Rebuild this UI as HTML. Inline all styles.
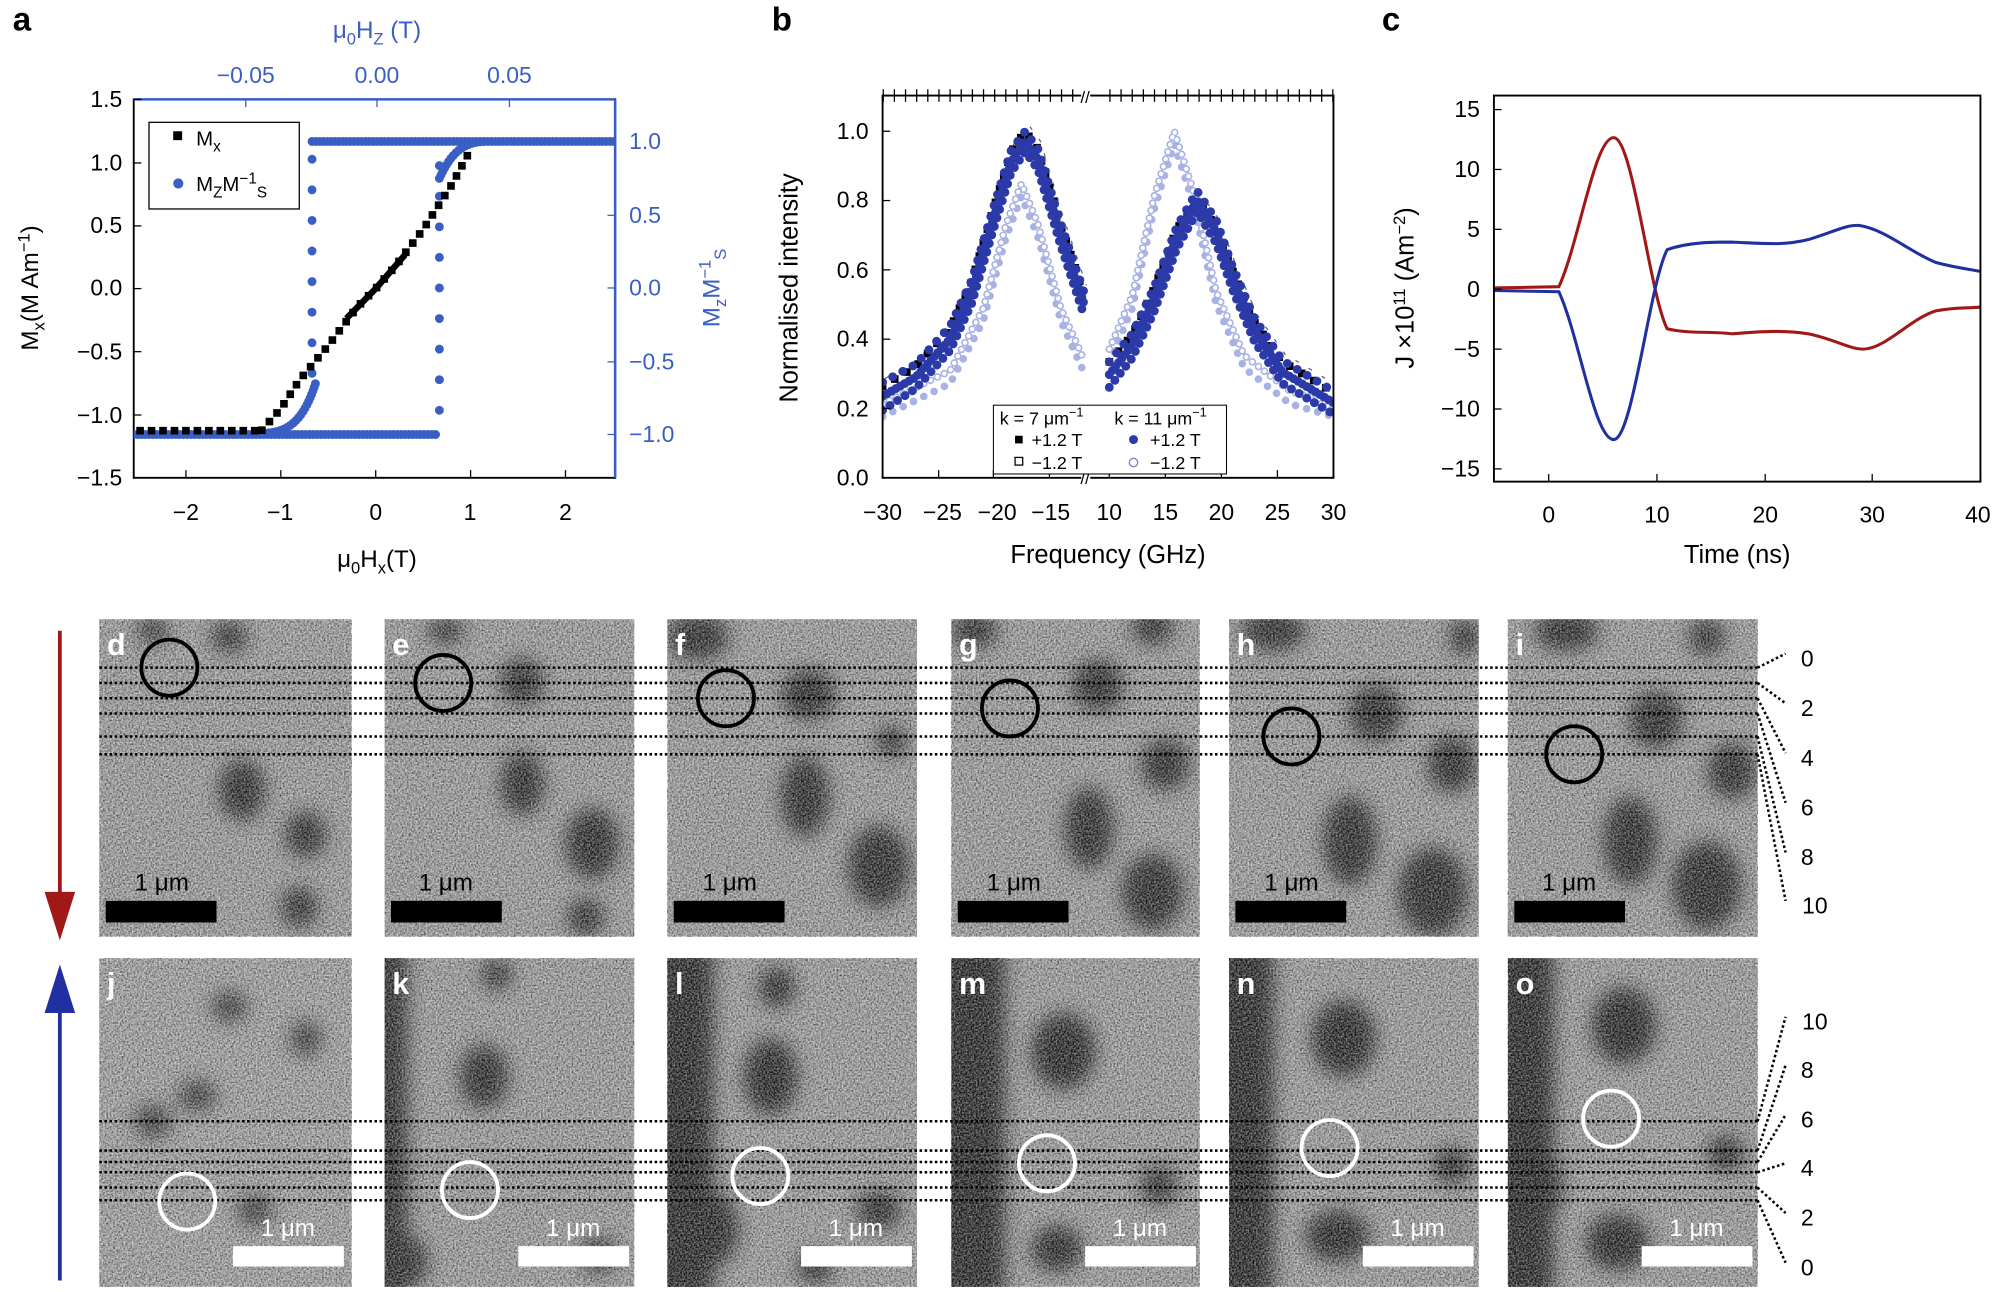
<!DOCTYPE html>
<html><head><meta charset="utf-8"><style>
html,body{margin:0;padding:0;background:#fff;}
svg{display:block;font-family:"Liberation Sans",sans-serif;}
</style></head><body>
<svg width="1997" height="1292" viewBox="0 0 1568 1014" preserveAspectRatio="none" xmlns="http://www.w3.org/2000/svg">
<defs>
<filter id="bl" x="-50%" y="-50%" width="200%" height="200%"><feGaussianBlur stdDeviation="7"/></filter>
<filter id="nz" x="0" y="0" width="1" height="1"><feTurbulence type="fractalNoise" baseFrequency="0.75" numOctaves="1" seed="3"/><feColorMatrix type="matrix" values="0 0 0 0 0  0 0 0 0 0  0 0 0 0 0  1.8 0 0 0 -0.55"/></filter>
<filter id="nz2" x="0" y="0" width="1" height="1"><feTurbulence type="fractalNoise" baseFrequency="0.75" numOctaves="1" seed="9"/><feColorMatrix type="matrix" values="0 0 0 0 1  0 0 0 0 1  0 0 0 0 1  1.8 0 0 0 -0.55"/></filter>
<clipPath id="ca"><rect x="105" y="78" width="378" height="297"/></clipPath>
<clipPath id="cb"><rect x="693" y="75" width="354" height="300"/></clipPath>
<clipPath id="cc"><rect x="1173" y="75" width="382" height="303"/></clipPath>
<clipPath id="i0"><rect x="78" y="486" width="198" height="249"/></clipPath>
<clipPath id="i1"><rect x="302" y="486" width="196" height="249"/></clipPath>
<clipPath id="i2"><rect x="524" y="486" width="196" height="249"/></clipPath>
<clipPath id="i3"><rect x="747" y="486" width="195" height="249"/></clipPath>
<clipPath id="i4"><rect x="965" y="486" width="196" height="249"/></clipPath>
<clipPath id="i5"><rect x="1184" y="486" width="196" height="249"/></clipPath>
<clipPath id="i6"><rect x="78" y="752" width="198" height="258"/></clipPath>
<clipPath id="i7"><rect x="302" y="752" width="196" height="258"/></clipPath>
<clipPath id="i8"><rect x="524" y="752" width="196" height="258"/></clipPath>
<clipPath id="i9"><rect x="747" y="752" width="195" height="258"/></clipPath>
<clipPath id="i10"><rect x="965" y="752" width="196" height="258"/></clipPath>
<clipPath id="i11"><rect x="1184" y="752" width="196" height="258"/></clipPath>
</defs>

<!-- ================= Panel a ================= -->
<text x="10" y="24" font-size="26" font-weight="bold">a</text>
<rect x="105" y="78" width="378" height="297" fill="none" stroke="#000" stroke-width="1.5"/>
<line x1="483" y1="78" x2="483" y2="375" stroke="#3a5fc4" stroke-width="2"/>
<line x1="105" y1="78" x2="483" y2="78" stroke="#3a5fc4" stroke-width="2"/>
<g stroke="#000">
<line x1="105" y1="78" x2="111" y2="78"/><line x1="105" y1="127.9" x2="111" y2="127.9"/><line x1="105" y1="177.3" x2="111" y2="177.3"/><line x1="105" y1="226.5" x2="111" y2="226.5"/><line x1="105" y1="276" x2="111" y2="276"/><line x1="105" y1="325.7" x2="111" y2="325.7"/>
<line x1="146" y1="375" x2="146" y2="369"/><line x1="220.5" y1="375" x2="220.5" y2="369"/><line x1="295" y1="375" x2="295" y2="369"/><line x1="369.5" y1="375" x2="369.5" y2="369"/><line x1="444" y1="375" x2="444" y2="369"/>
</g>
<g font-size="18" text-anchor="end">
<text x="96" y="84">1.5</text><text x="96" y="134">1.0</text><text x="96" y="183">0.5</text><text x="96" y="232">0.0</text><text x="96" y="282">−0.5</text><text x="96" y="332">−1.0</text><text x="96" y="381">−1.5</text>
</g>
<g font-size="18" text-anchor="middle">
<text x="146" y="408">−2</text><text x="220" y="408">−1</text><text x="295" y="408">0</text><text x="369" y="408">1</text><text x="444" y="408">2</text>
</g>
<g stroke="#3a5fc4"><line x1="483" y1="111" x2="477" y2="111"/><line x1="483" y1="169" x2="477" y2="169"/><line x1="483" y1="226" x2="477" y2="226"/><line x1="483" y1="284" x2="477" y2="284"/><line x1="483" y1="341" x2="477" y2="341"/>
<line x1="193" y1="78" x2="193" y2="84"/><line x1="296" y1="78" x2="296" y2="84"/><line x1="400" y1="78" x2="400" y2="84"/></g>
<g font-size="18" fill="#3a5fc4">
<text x="494" y="117">1.0</text><text x="494" y="175">0.5</text><text x="494" y="232">0.0</text><text x="494" y="290">−0.5</text><text x="494" y="347">−1.0</text>
<text x="193" y="65" text-anchor="middle">−0.05</text><text x="296" y="65" text-anchor="middle">0.00</text><text x="400" y="65" text-anchor="middle">0.05</text>
<text x="296" y="30" text-anchor="middle" font-size="19">μ<tspan font-size="13" dy="5">0</tspan><tspan dy="-5">H</tspan><tspan font-size="13" dy="5">Z</tspan><tspan dy="-5"> (T)</tspan></text>
<text transform="translate(565,226) rotate(-90)" text-anchor="middle" font-size="19">M<tspan font-size="13" dy="5">z</tspan><tspan dy="-5">M</tspan><tspan font-size="13" dy="-7">−1</tspan><tspan font-size="13" dy="12">S</tspan></text>
</g>
<text x="296" y="445" text-anchor="middle" font-size="19">μ<tspan font-size="13" dy="5">0</tspan><tspan dy="-5">H</tspan><tspan font-size="13" dy="5">x</tspan><tspan dy="-5">(T)</tspan></text>
<text transform="translate(30,226) rotate(-90)" text-anchor="middle" font-size="19">M<tspan font-size="13" dy="5">x</tspan><tspan dy="-5">(M Am</tspan><tspan font-size="13" dy="-7">−1</tspan><tspan dy="7">)</tspan></text>
<g clip-path="url(#ca)">
<g fill="none" stroke="#3a5fc4" stroke-width="7" stroke-linecap="round" stroke-dasharray="0 3">
<path d="M105,341 L345,341"/><path d="M245,111 L483,111"/>
<path d="M205,340 C225,340 238,332 248,300"/><path d="M345,140 C355,118 365,112 380,111"/>
</g>
<g fill="none" stroke="#3a5fc4" stroke-width="7" stroke-linecap="round" stroke-dasharray="0 24">
<path d="M345,130 L345,330"/><path d="M245,125 L245,310"/>
</g>
<g fill="none" stroke="#000" stroke-width="6" stroke-linecap="square" stroke-dasharray="0 9">
<path d="M110,338 L205,338"/>
<path d="M205.6,337.6 L220.5,320.7 L235.4,297.9 L257.8,271.1 L280.1,241.4 L295,226.5 L309.9,209.6 L332.3,179.9 L354.6,145.2 L369.5,117.4"/>
</g>
<path d="M272,250 L295,226.5 L318,200" fill="none" stroke="#000" stroke-width="5"/>
</g>
<rect x="117" y="96" width="118" height="68" fill="#fff" stroke="#000"/>
<rect x="136" y="103" width="7" height="7" fill="#000"/><text x="154" y="114" font-size="16">M<tspan font-size="12" dy="5">x</tspan></text>
<circle cx="140" cy="144" r="4" fill="#3a5fc4"/><text x="154" y="150" font-size="16">M<tspan font-size="12" dy="5">Z</tspan><tspan dy="-5">M</tspan><tspan font-size="12" dy="-6">−1</tspan><tspan font-size="12" dy="11">S</tspan></text>

<!-- ================= Panel b ================= -->
<text x="606" y="24" font-size="26" font-weight="bold">b</text>
<g clip-path="url(#cb)">
<g fill="none" stroke="#666" stroke-width="1" stroke-dasharray="3 9">
<path d="M693,303 L719,288 L746,258 L763,221 L780,164 L794,119 L805,103 L815,117 L833,177 L851,230" transform="translate(2,-6)"/>
<path d="M871,284 L889,263 L906,227 L924,180 L940,157 L955,178 L968,213 L985,253 L1007,284 L1047,308" transform="translate(2,-6)"/>
</g>
<g fill="none" stroke="#000" stroke-width="6" stroke-linecap="square" stroke-dasharray="0 11">
<path d="M693,303 L719,288 L746,258 L763,221 L780,164 L794,119 L805,103 L815,117 L833,177 L851,230"/>
<path d="M871,284 L889,263 L906,227 L924,180 L940,157 L955,178 L968,213 L985,253 L1007,284 L1047,308"/>
</g>
<g fill="none" stroke="#a8b2e4" stroke-width="6" stroke-linecap="round" stroke-dasharray="0 6">
<path d="M693,317 L746,291 L772,242 L790,176 L802,144 L815,176 L833,242 L850,280"/>
<path d="M693,327 L746,301 L772,252 L790,186 L802,154 L815,186 L833,252 L850,290" stroke-dasharray="0 9"/>
<path d="M871,274 L889,232 L906,155 L922,103 L937,150 L955,229 L977,279 L1013,307 L1047,317"/>
<path d="M871,284 L889,242 L906,165 L922,113 L937,160 L955,239 L977,289 L1013,317 L1047,327" stroke-dasharray="0 9"/>
</g>
<g fill="none" stroke="#fff" stroke-width="3.5" stroke-linecap="round" stroke-dasharray="0 6">
<path d="M693,317 L746,291 L772,242 L790,176 L802,144 L815,176 L833,242 L850,280"/>
<path d="M871,274 L889,232 L906,155 L922,103 L937,150 L955,229 L977,279 L1013,307 L1047,317"/>
</g>
<g fill="none" stroke="#2b3aa8" stroke-width="7" stroke-linecap="round" stroke-dasharray="0 4">
<path d="M693,311 L719,296 L746,266 L763,229 L780,172 L794,127 L805,111 L815,125 L833,185 L851,238"/>
<path d="M693,322 L719,305 L746,275 L763,238 L780,180 L794,135 L805,119 L815,133 L833,193 L851,247" stroke-dasharray="0 7"/>
<path d="M693,300 L719,286 L746,256 L763,220 L780,163 L794,118 L805,103 L815,117 L833,176 L851,229" stroke-dasharray="0 9"/>
<path d="M871,294 L889,271 L906,235 L924,186 L940,157 L955,182 L968,219 L985,259 L1007,292 L1047,316"/>
<path d="M871,304 L889,281 L906,245 L924,195 L940,166 L955,191 L968,228 L985,268 L1007,301 L1047,325" stroke-dasharray="0 7"/>
<path d="M871,284 L889,262 L906,226 L924,178 L940,150 L955,173 L968,210 L985,250 L1007,283 L1047,307" stroke-dasharray="0 9"/>
</g>
</g>
<rect x="693" y="75" width="354" height="300" fill="none" stroke="#000" stroke-width="1.5"/>
<g stroke="#000">
<line x1="693" y1="375" x2="699" y2="375"/><line x1="693" y1="320.6" x2="699" y2="320.6"/><line x1="693" y1="266.2" x2="699" y2="266.2"/><line x1="693" y1="211.8" x2="699" y2="211.8"/><line x1="693" y1="157.4" x2="699" y2="157.4"/><line x1="693" y1="103" x2="699" y2="103"/>
<line x1="693" y1="375" x2="693" y2="369"/><line x1="737" y1="375" x2="737" y2="369"/><line x1="780" y1="375" x2="780" y2="369"/><line x1="824" y1="375" x2="824" y2="369"/>
<line x1="871" y1="375" x2="871" y2="369"/><line x1="915" y1="375" x2="915" y2="369"/><line x1="959" y1="375" x2="959" y2="369"/><line x1="1003" y1="375" x2="1003" y2="369"/><line x1="1047" y1="375" x2="1047" y2="369"/>
</g>
<g stroke="#000" stroke-dasharray="1 7.75"><line x1="693" y1="75" x2="849" y2="75" stroke-width="10"/><line x1="871" y1="75" x2="1047" y2="75" stroke-width="10"/></g>
<rect x="849" y="68" width="7" height="14" fill="#fff"/><rect x="849" y="366" width="7" height="14" fill="#fff"/>
<text x="852" y="81" font-size="13" text-anchor="middle">//</text><text x="852" y="380" font-size="13" text-anchor="middle">//</text>
<g font-size="18" text-anchor="end">
<text x="682" y="381">0.0</text><text x="682" y="327">0.2</text><text x="682" y="272">0.4</text><text x="682" y="218">0.6</text><text x="682" y="163">0.8</text><text x="682" y="109">1.0</text>
</g>
<g font-size="18" text-anchor="middle">
<text x="693" y="408">−30</text><text x="740" y="408">−25</text><text x="783" y="408">−20</text><text x="825" y="408">−15</text>
<text x="871" y="408">10</text><text x="915" y="408">15</text><text x="959" y="408">20</text><text x="1003" y="408">25</text><text x="1047" y="408">30</text>
</g>
<text x="870" y="442" font-size="20" text-anchor="middle">Frequency (GHz)</text>
<text transform="translate(626,226) rotate(-90)" font-size="20" text-anchor="middle">Normalised intensity</text>
<rect x="780" y="318" width="183" height="54" fill="#fff" stroke="#000" stroke-width="0.8"/>
<text x="785" y="333" font-size="14">k = 7 μm<tspan font-size="10" dy="-6">−1</tspan></text>
<text x="875" y="333" font-size="14">k = 11 μm<tspan font-size="10" dy="-6">−1</tspan></text>
<rect x="797" y="342" width="6" height="6" fill="#000"/><text x="810" y="350" font-size="14">+1.2 T</text>
<rect x="797" y="359" width="6" height="6" fill="#fff" stroke="#000"/><text x="810" y="368" font-size="14">−1.2 T</text>
<circle cx="890" cy="345" r="3.5" fill="#2b3aa8"/><text x="903" y="350" font-size="14">+1.2 T</text>
<circle cx="890" cy="363" r="3.3" fill="#fff" stroke="#7080d0"/><text x="903" y="368" font-size="14">−1.2 T</text>

<!-- ================= Panel c ================= -->
<text x="1085" y="24" font-size="26" font-weight="bold">c</text>
<g clip-path="url(#cc)" fill="none" stroke-width="2.4">
<path stroke="#a01818" d="M1173,226 L1224,225 C1240,190 1252,108 1267,108 C1282,108 1295,230 1309,258 C1325,262 1345,260 1360,262 C1385,260 1400,259 1420,262 C1440,266 1452,274 1463,274 C1480,274 1500,250 1520,244 C1535,241 1545,242 1555,241"/>
<path stroke="#2030a0" d="M1173,228 L1224,229 C1240,264 1252,345 1267,345 C1282,345 1295,223 1309,196 C1325,190 1345,190 1360,190 C1385,191 1400,193 1420,188 C1440,182 1450,176 1460,177 C1480,180 1500,198 1520,206 C1535,210 1545,211 1555,213"/>
</g>
<rect x="1173" y="75" width="382" height="303" fill="none" stroke="#000" stroke-width="1.5"/>
<g stroke="#000">
<line x1="1173" y1="86" x2="1179" y2="86"/><line x1="1173" y1="133" x2="1179" y2="133"/><line x1="1173" y1="180" x2="1179" y2="180"/><line x1="1173" y1="227" x2="1179" y2="227"/><line x1="1173" y1="274" x2="1179" y2="274"/><line x1="1173" y1="321" x2="1179" y2="321"/><line x1="1173" y1="368" x2="1179" y2="368"/>
<line x1="1216" y1="378" x2="1216" y2="372"/><line x1="1301" y1="378" x2="1301" y2="372"/><line x1="1386" y1="378" x2="1386" y2="372"/><line x1="1470" y1="378" x2="1470" y2="372"/><line x1="1555" y1="378" x2="1555" y2="372"/>
</g>
<g font-size="18" text-anchor="end">
<text x="1162" y="92">15</text><text x="1162" y="139">10</text><text x="1162" y="186">5</text><text x="1162" y="233">0</text><text x="1162" y="280">−5</text><text x="1162" y="327">−10</text><text x="1162" y="374">−15</text>
</g>
<g font-size="18" text-anchor="middle">
<text x="1216" y="410">0</text><text x="1301" y="410">10</text><text x="1386" y="410">20</text><text x="1470" y="410">30</text><text x="1553" y="410">40</text>
</g>
<text x="1364" y="442" font-size="20" text-anchor="middle">Time (ns)</text>
<text transform="translate(1110,226) rotate(-90)" font-size="20" text-anchor="middle">J ×10<tspan font-size="13" dy="-7">11</tspan><tspan dy="7"> (Am</tspan><tspan font-size="13" dy="-7">−2</tspan><tspan dy="7">)</tspan></text>

<!-- ================= Images row 1 ================= -->
<g clip-path="url(#i0)"><rect x="78" y="486" width="198" height="249" fill="#ababab"/>
<g filter="url(#bl)" fill="#222"><ellipse cx="190" cy="620" rx="18" ry="24"/><ellipse cx="240" cy="655" rx="16" ry="18"/><ellipse cx="235" cy="712" rx="14" ry="16"/><ellipse cx="180" cy="500" rx="14" ry="12"/><ellipse cx="120" cy="495" rx="12" ry="10"/></g></g>
<g clip-path="url(#i1)"><rect x="302" y="486" width="196" height="249" fill="#ababab"/>
<g filter="url(#bl)" fill="#222"><ellipse cx="410" cy="535" rx="17" ry="18"/><ellipse cx="410" cy="615" rx="17" ry="25"/><ellipse cx="465" cy="662" rx="21" ry="28"/><ellipse cx="460" cy="720" rx="14" ry="15"/><ellipse cx="350" cy="495" rx="14" ry="10"/></g></g>
<g clip-path="url(#i2)"><rect x="524" y="486" width="196" height="249" fill="#ababab"/>
<g filter="url(#bl)" fill="#222"><ellipse cx="548" cy="500" rx="24" ry="18"/><ellipse cx="635" cy="545" rx="21" ry="20"/><ellipse cx="632" cy="625" rx="19" ry="32"/><ellipse cx="690" cy="680" rx="24" ry="32"/><ellipse cx="700" cy="582" rx="12" ry="12"/></g></g>
<g clip-path="url(#i3)"><rect x="747" y="486" width="195" height="249" fill="#ababab"/>
<g filter="url(#bl)" fill="#222"><ellipse cx="765" cy="495" rx="18" ry="14"/><ellipse cx="905" cy="492" rx="16" ry="14"/><ellipse cx="862" cy="538" rx="20" ry="20"/><ellipse cx="915" cy="600" rx="19" ry="20"/><ellipse cx="855" cy="650" rx="19" ry="32"/><ellipse cx="905" cy="700" rx="24" ry="30"/></g></g>
<g clip-path="url(#i4)"><rect x="965" y="486" width="196" height="249" fill="#ababab"/>
<g filter="url(#bl)" fill="#222"><ellipse cx="1000" cy="495" rx="25" ry="16"/><ellipse cx="1080" cy="560" rx="21" ry="22"/><ellipse cx="1140" cy="600" rx="19" ry="22"/><ellipse cx="1060" cy="660" rx="21" ry="35"/><ellipse cx="1125" cy="700" rx="27" ry="35"/><ellipse cx="1150" cy="500" rx="12" ry="14"/></g></g>
<g clip-path="url(#i5)"><rect x="1184" y="486" width="196" height="249" fill="#ababab"/>
<g filter="url(#bl)" fill="#222"><ellipse cx="1230" cy="495" rx="25" ry="16"/><ellipse cx="1300" cy="565" rx="21" ry="22"/><ellipse cx="1360" cy="605" rx="19" ry="22"/><ellipse cx="1280" cy="660" rx="21" ry="35"/><ellipse cx="1340" cy="695" rx="27" ry="35"/><ellipse cx="1340" cy="500" rx="14" ry="14"/></g></g>
<!-- row 2 -->
<g clip-path="url(#i6)"><rect x="78" y="752" width="198" height="258" fill="#b0b0b0"/>
<g filter="url(#bl)" fill="#333"><ellipse cx="120" cy="880" rx="15" ry="13"/><ellipse cx="155" cy="860" rx="15" ry="12"/><ellipse cx="240" cy="815" rx="12" ry="14"/><ellipse cx="180" cy="790" rx="14" ry="12"/><ellipse cx="200" cy="950" rx="14" ry="12"/></g></g>
<g clip-path="url(#i7)"><rect x="302" y="752" width="196" height="258" fill="#ababab"/>
<g filter="url(#bl)" fill="#222"><rect x="290" y="740" width="30" height="280"/><ellipse cx="380" cy="845" rx="19" ry="25"/><ellipse cx="470" cy="985" rx="14" ry="14"/><ellipse cx="390" cy="765" rx="12" ry="12"/><ellipse cx="320" cy="990" rx="16" ry="20"/></g></g>
<g clip-path="url(#i8)"><rect x="524" y="752" width="196" height="258" fill="#ababab"/>
<g filter="url(#bl)" fill="#1e1e1e"><rect x="512" y="740" width="48" height="280"/><ellipse cx="605" cy="845" rx="21" ry="30"/><ellipse cx="610" cy="775" rx="14" ry="16"/><ellipse cx="690" cy="950" rx="17" ry="15"/><ellipse cx="555" cy="965" rx="25" ry="30"/><ellipse cx="640" cy="995" rx="14" ry="12"/></g></g>
<g clip-path="url(#i9)"><rect x="747" y="752" width="195" height="258" fill="#ababab"/>
<g filter="url(#bl)" fill="#1e1e1e"><rect x="735" y="740" width="54" height="280"/><ellipse cx="835" cy="825" rx="25" ry="30"/><ellipse cx="910" cy="930" rx="14" ry="14"/><ellipse cx="830" cy="980" rx="20" ry="18"/></g></g>
<g clip-path="url(#i10)"><rect x="965" y="752" width="196" height="258" fill="#ababab"/>
<g filter="url(#bl)" fill="#1e1e1e"><rect x="953" y="740" width="47" height="280"/><ellipse cx="1055" cy="815" rx="25" ry="30"/><ellipse cx="1140" cy="915" rx="14" ry="14"/><ellipse cx="1050" cy="970" rx="25" ry="20"/></g></g>
<g clip-path="url(#i11)"><rect x="1184" y="752" width="196" height="258" fill="#ababab"/>
<g filter="url(#bl)" fill="#1e1e1e"><rect x="1172" y="740" width="48" height="280"/><ellipse cx="1275" cy="805" rx="25" ry="30"/><ellipse cx="1355" cy="905" rx="14" ry="14"/><ellipse cx="1270" cy="975" rx="25" ry="22"/><ellipse cx="1205" cy="930" rx="22" ry="30"/></g></g>
<!-- noise overlays -->
<g>
<rect x="78" y="486" width="198" height="249" filter="url(#nz)" opacity="0.7"/><rect x="78" y="486" width="198" height="249" filter="url(#nz2)" opacity="0.6"/>
<rect x="302" y="486" width="196" height="249" filter="url(#nz)" opacity="0.7"/><rect x="302" y="486" width="196" height="249" filter="url(#nz2)" opacity="0.6"/>
<rect x="524" y="486" width="196" height="249" filter="url(#nz)" opacity="0.7"/><rect x="524" y="486" width="196" height="249" filter="url(#nz2)" opacity="0.6"/>
<rect x="747" y="486" width="195" height="249" filter="url(#nz)" opacity="0.7"/><rect x="747" y="486" width="195" height="249" filter="url(#nz2)" opacity="0.6"/>
<rect x="965" y="486" width="196" height="249" filter="url(#nz)" opacity="0.7"/><rect x="965" y="486" width="196" height="249" filter="url(#nz2)" opacity="0.6"/>
<rect x="1184" y="486" width="196" height="249" filter="url(#nz)" opacity="0.7"/><rect x="1184" y="486" width="196" height="249" filter="url(#nz2)" opacity="0.6"/>
<rect x="78" y="752" width="198" height="258" filter="url(#nz)" opacity="0.7"/><rect x="78" y="752" width="198" height="258" filter="url(#nz2)" opacity="0.6"/>
<rect x="302" y="752" width="196" height="258" filter="url(#nz)" opacity="0.7"/><rect x="302" y="752" width="196" height="258" filter="url(#nz2)" opacity="0.6"/>
<rect x="524" y="752" width="196" height="258" filter="url(#nz)" opacity="0.7"/><rect x="524" y="752" width="196" height="258" filter="url(#nz2)" opacity="0.6"/>
<rect x="747" y="752" width="195" height="258" filter="url(#nz)" opacity="0.7"/><rect x="747" y="752" width="195" height="258" filter="url(#nz2)" opacity="0.6"/>
<rect x="965" y="752" width="196" height="258" filter="url(#nz)" opacity="0.7"/><rect x="965" y="752" width="196" height="258" filter="url(#nz2)" opacity="0.6"/>
<rect x="1184" y="752" width="196" height="258" filter="url(#nz)" opacity="0.7"/><rect x="1184" y="752" width="196" height="258" filter="url(#nz2)" opacity="0.6"/>
</g>
<!-- letters -->
<g font-size="24" font-weight="bold" fill="#fff">
<text x="84" y="514">d</text><text x="308" y="514">e</text><text x="530" y="514">f</text><text x="753" y="514">g</text><text x="971" y="514">h</text><text x="1190" y="514">i</text>
<text x="84" y="780">j</text><text x="308" y="780">k</text><text x="530" y="780">l</text><text x="753" y="780">m</text><text x="971" y="780">n</text><text x="1190" y="780">o</text>
</g>
<!-- scale bars -->
<g fill="#000"><rect x="83" y="707" width="87" height="17"/><rect x="307" y="707" width="87" height="17"/><rect x="529" y="707" width="87" height="17"/><rect x="752" y="707" width="87" height="17"/><rect x="970" y="707" width="87" height="17"/><rect x="1189" y="707" width="87" height="17"/></g>
<g font-size="19" text-anchor="middle"><text x="127" y="699">1 μm</text><text x="350" y="699">1 μm</text><text x="573" y="699">1 μm</text><text x="796" y="699">1 μm</text><text x="1014" y="699">1 μm</text><text x="1232" y="699">1 μm</text></g>
<g fill="#fff"><rect x="183" y="978" width="87" height="16"/><rect x="407" y="978" width="87" height="16"/><rect x="629" y="978" width="87" height="16"/><rect x="852" y="978" width="87" height="16"/><rect x="1070" y="978" width="87" height="16"/><rect x="1289" y="978" width="87" height="16"/></g>
<g font-size="19" text-anchor="middle" fill="#fff"><text x="226" y="970">1 μm</text><text x="450" y="970">1 μm</text><text x="672" y="970">1 μm</text><text x="895" y="970">1 μm</text><text x="1113" y="970">1 μm</text><text x="1332" y="970">1 μm</text></g>
<!-- dotted lines -->
<g stroke="#000" stroke-width="2" stroke-dasharray="2 2">
<line x1="78" y1="524" x2="1380" y2="524"/><line x1="78" y1="536" x2="1380" y2="536"/><line x1="78" y1="548" x2="1380" y2="548"/><line x1="78" y1="560" x2="1380" y2="560"/><line x1="78" y1="578" x2="1380" y2="578"/><line x1="78" y1="592" x2="1380" y2="592"/>
<line x1="78" y1="880" x2="1380" y2="880"/><line x1="78" y1="903" x2="1380" y2="903"/><line x1="78" y1="912" x2="1380" y2="912"/><line x1="78" y1="920" x2="1380" y2="920"/><line x1="78" y1="932" x2="1380" y2="932"/><line x1="78" y1="942" x2="1380" y2="942"/>
<line x1="1380" y1="524" x2="1402" y2="513"/><line x1="1380" y1="536" x2="1402" y2="552"/><line x1="1380" y1="548" x2="1402" y2="591"/><line x1="1380" y1="560" x2="1402" y2="630"/><line x1="1380" y1="578" x2="1402" y2="669"/><line x1="1380" y1="592" x2="1402" y2="707"/>
<line x1="1380" y1="942" x2="1402" y2="991"/><line x1="1380" y1="932" x2="1402" y2="952"/><line x1="1380" y1="920" x2="1402" y2="913"/><line x1="1380" y1="912" x2="1402" y2="875"/><line x1="1380" y1="903" x2="1402" y2="836"/><line x1="1380" y1="880" x2="1402" y2="798"/>
</g>
<g font-size="18" text-anchor="middle">
<text x="1419" y="523">0</text><text x="1419" y="562">2</text><text x="1419" y="601">4</text><text x="1419" y="640">6</text><text x="1419" y="679">8</text><text x="1425" y="717">10</text>
<text x="1419" y="1001">0</text><text x="1419" y="962">2</text><text x="1419" y="923">4</text><text x="1419" y="885">6</text><text x="1419" y="846">8</text><text x="1425" y="808">10</text>
</g>
<!-- circles -->
<g fill="none" stroke="#000" stroke-width="3">
<circle cx="133" cy="524" r="22"/><circle cx="348" cy="536" r="22"/><circle cx="570" cy="548" r="22"/><circle cx="793" cy="556" r="22"/><circle cx="1014" cy="578" r="22"/><circle cx="1236" cy="592" r="22"/>
</g>
<g fill="none" stroke="#fff" stroke-width="3">
<circle cx="147" cy="943" r="22"/><circle cx="369" cy="934" r="22"/><circle cx="597" cy="923" r="22"/><circle cx="822" cy="913" r="22"/><circle cx="1044" cy="901" r="22"/><circle cx="1265" cy="878" r="22"/>
</g>
<!-- arrows -->
<line x1="47" y1="495" x2="47" y2="705" stroke="#a01818" stroke-width="3"/>
<polygon points="35,700 59,700 47,738" fill="#a01818"/>
<line x1="47" y1="1005" x2="47" y2="790" stroke="#2030a0" stroke-width="3"/>
<polygon points="35,795 59,795 47,757" fill="#2030a0"/>
</svg>
</body></html>
